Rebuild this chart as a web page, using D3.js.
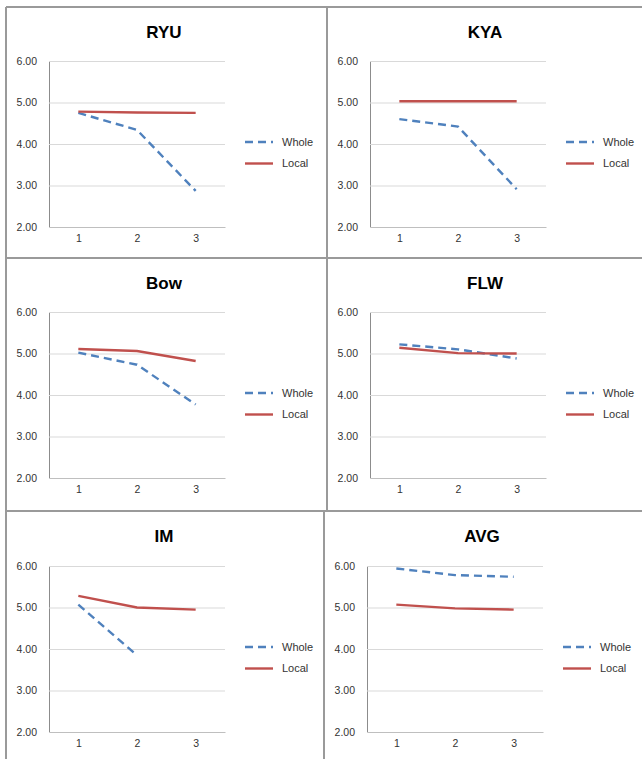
<!DOCTYPE html>
<html>
<head>
<meta charset="utf-8">
<script src="https://cdn.jsdelivr.net/npm/d3@7"></script>
<style>
body { margin: 0; background: #fff; }
svg { display: block; font-family: "Liberation Sans", Arial, sans-serif; }
</style>
</head>
<body>
<svg id="chart" width="642" height="759"></svg>
<script>
// data
var titles = ["RYU", "KYA", "Bow", "FLW", "IM", "AVG"];
var steps = [1, 2, 3];
var yTicks = [2, 3, 4, 5, 6];
var seriesNames = ["Whole", "Local"];
var whole = [
    [4.75, 4.34, 2.87],
    [4.60, 4.42, 2.91],
    [5.02, 4.73, 3.77],
    [5.22, 5.10, 4.88],
    [5.07, 3.85, null],
    [5.94, 5.78, 5.74]
];
var local = [
    [4.78, 4.76, 4.75],
    [5.03, 5.03, 5.03],
    [5.11, 5.06, 4.82],
    [5.14, 5.01, 5.00],
    [5.28, 5.00, 4.95],
    [5.07, 4.98, 4.95]
];

// panel frames (top-left corner of each cell)
var panelX = [6, 327, 6, 327, 6, 324];
var panelY = [7, 7, 258, 258, 511, 511];
var plotW = 176, plotH = 166;

function drawPanel(svg, p, xScale, yScale, line)
{
    var colors = ["#4f81bd", "#c0504d"];
    var dashes = ["8,5", null];
    var plotLeft = panelX[p] + 43;
    var plotTop = panelY[p] + (p >= 4 ? 55 : 54);
    var g = svg.append("g").attr("transform", "translate(" + plotLeft + "," + plotTop + ")");

    // title
    svg.append("text")
        .attr("x", panelX[p] + 158)
        .attr("y", panelY[p] + 31)
        .attr("text-anchor", "middle")
        .attr("font-size", 17)
        .attr("font-weight", "bold")
        .attr("fill", "#000")
        .text(titles[p]);

    // y axis with grid lines
    var yAxis = d3.axisLeft(yScale).tickValues(yTicks)
        .tickFormat(d3.format(".2f")).tickSize(-plotW).tickPadding(12);
    var ya = g.append("g").call(yAxis).attr("font-family", null);
    ya.select(".domain").attr("stroke", "#8c8c8c");
    ya.selectAll(".tick line").attr("stroke", "#d9d9d9");
    ya.selectAll(".tick text").attr("fill", "#333").attr("font-size", 10.5);

    // x axis
    var xAxis = d3.axisBottom(xScale).tickSize(0).tickPadding(8);
    var xa = g.append("g").attr("transform", "translate(0," + plotH + ")").call(xAxis)
        .attr("font-family", null);
    xa.select(".domain").attr("stroke", "#bfbfbf");
    xa.selectAll(".tick text").attr("fill", "#333").attr("font-size", 10.5);

    // lines
    var series = [whole[p], local[p]];
    for (var s = 0; s < 2; s++) {
        g.append("path")
            .datum(series[s])
            .attr("d", line)
            .attr("fill", "none")
            .attr("stroke", colors[s])
            .attr("stroke-width", 2.4)
            .attr("stroke-dasharray", dashes[s]);
    }

    // legend
    for (var s = 0; s < 2; s++) {
        var ly = 81 + s * 21.5;
        g.append("line")
            .attr("x1", 196).attr("x2", 224)
            .attr("y1", ly).attr("y2", ly)
            .attr("stroke", colors[s])
            .attr("stroke-width", 2.4)
            .attr("stroke-dasharray", dashes[s]);
        g.append("text")
            .attr("x", 233).attr("y", ly)
            .attr("dy", "0.35em")
            .attr("font-size", 11)
            .attr("fill", "#333")
            .text(seriesNames[s]);
    }
}

function draw()
{
    var svg = d3.select("#chart");

    // table borders
    var borders = [
        [6, 7, 642, 7], [6, 7, 6, 759],
        [6, 258, 642, 258], [6, 511, 642, 511],
        [327, 7, 327, 511], [324, 511, 324, 759]
    ];
    svg.selectAll("line.border").data(borders).enter()
        .append("line")
        .attr("class", "border")
        .attr("x1", function(d) { return d[0]; })
        .attr("y1", function(d) { return d[1]; })
        .attr("x2", function(d) { return d[2]; })
        .attr("y2", function(d) { return d[3]; })
        .attr("stroke", "#9a9a9a")
        .attr("stroke-width", 2);

    var xScale = d3.scalePoint().domain(steps).range([0, plotW]).padding(0.5);
    var yScale = d3.scaleLinear().domain([2, 6]).range([plotH, 0]);

    var line = d3.line()
        .defined(function(d) { return d != null; })
        .x(function(d, i) { return xScale(steps[i]); })
        .y(function(d) { return yScale(d); });

    for (var p = 0; p < titles.length; p++) {
        drawPanel(svg, p, xScale, yScale, line);
    }
}

draw();
</script>
</body>
</html>
